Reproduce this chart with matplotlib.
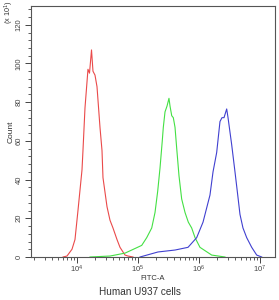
import numpy as np
import matplotlib
matplotlib.use("Agg")
import matplotlib.pyplot as plt
from matplotlib.ticker import MultipleLocator, LogLocator, LogFormatterMathtext, NullFormatter

plt.rcParams['font.family'] = ['Liberation Sans', 'DejaVu Sans']

# Histogram traces: log10(FITC-A) and Count (x10^1)
red_log10 = [3.775, 3.840, 3.922, 3.971, 4.020, 4.086, 4.102, 4.135, 4.184, 4.209,
             4.242, 4.266, 4.299, 4.332, 4.381, 4.414, 4.430, 4.496, 4.545, 4.594,
             4.660, 4.709, 4.791, 4.840, 4.922]
red_count = [0, 0.5, 4, 9, 24, 45, 55, 77, 97, 95,
             107, 96, 94, 88, 67, 55, 41, 26, 19, 15,
             9, 5, 1, 0.5, 0]

green_log10 = [4.217, 4.545, 4.791, 4.901, 5.065, 5.147, 5.229, 5.283, 5.327, 5.365,
               5.402, 5.419, 5.447, 5.480, 5.512, 5.529, 5.557, 5.583, 5.611, 5.639,
               5.676, 5.720, 5.775, 5.829, 5.884, 5.939, 6.020, 6.212, 6.430]
green_count = [0, 0.5, 2, 3.6, 6, 10, 15, 23, 34, 46,
               60, 67, 75, 78, 82, 78, 73, 72, 67, 56,
               42, 30, 23, 18, 15, 10, 5, 1, 0]

blue_log10 = [5.037, 5.332, 5.611, 5.824, 5.966, 6.070, 6.184, 6.234, 6.294, 6.348,
              6.381, 6.414, 6.458, 6.480, 6.540, 6.594, 6.639, 6.676, 6.725, 6.786,
              6.868, 6.950, 7.032]
blue_count = [0, 2.6, 3.6, 5, 10, 18, 32, 44, 54, 70,
              72, 72, 76.5, 72, 58, 44, 32, 22, 15, 10,
              5, 1, 0]

y_ticks = [0, 20, 40, 60, 80, 100, 120]
x_ticks = [1e4, 1e5, 1e6, 1e7]

fig = plt.figure(figsize=(2.79, 3.0), dpi=100)
ax = fig.add_axes([31/279, 43/300, 244/279, 251/300])

ax.plot(10**np.array(red_log10), red_count, color='#ea4a4a', lw=0.8)
ax.plot(10**np.array(green_log10), green_count, color='#44e044', lw=0.8)
ax.plot(10**np.array(blue_log10), blue_count, color='#4040d0', lw=0.8)

ax.set_xscale('log')
ax.set_xlim(10**3.25, 10**7.25)
ax.set_ylim(0, 129.7)

ax.set_yticks(y_ticks)
ax.yaxis.set_minor_locator(MultipleLocator(4))
ax.set_xticks(x_ticks)
ax.xaxis.set_major_formatter(LogFormatterMathtext())
ax.xaxis.set_minor_locator(LogLocator(base=10, subs=np.arange(2, 10)))
ax.xaxis.set_minor_formatter(NullFormatter())

for lab in ax.get_yticklabels():
    lab.set_rotation(90)
    lab.set_va('center')
ax.tick_params(axis='both', which='major', direction='out', length=4, width=0.7,
               labelsize=5.5, colors='#444444', pad=1)
ax.tick_params(axis='y', which='major', pad=2)
ax.tick_params(axis='both', which='minor', direction='out', length=2, width=0.6, colors='#444444')

for s in ax.spines.values():
    s.set_color('#555555')
    s.set_linewidth(0.8)

ax.set_ylabel('Count', fontsize=6, color='#333333', labelpad=1)
ax.set_xlabel('FITC-A', fontsize=5.5, color='#333333', labelpad=0)
fig.text(9/279, 1 - 12/300, r'(x 10$^1$)', rotation=90, fontsize=5.2, color='#333333',
         ha='center', va='center')
fig.text(140/279, 1 - 292/300, 'Human U937 cells', fontsize=7.2, color='#333333',
         ha='center', va='center')

fig.savefig('out.png', dpi=100)
